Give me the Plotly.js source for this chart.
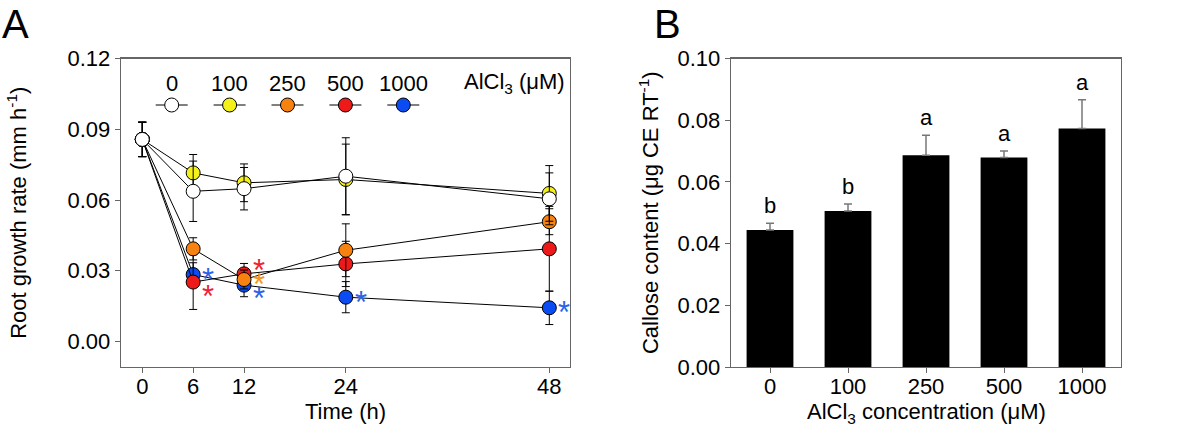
<!DOCTYPE html>
<html>
<head>
<meta charset="utf-8">
<script src="https://cdn.plot.ly/plotly-3.0.1.min.js"></script>
<style>
  html, body { margin: 0; padding: 0; background: #fff; }
  #chart { width: 1200px; height: 439px; }
</style>
</head>
<body>
<div id="chart"></div>
<script>
// Panel A: root growth rate over time
const times = [0, 6, 12, 24, 48];
const doses = ['0', '100', '250', '500', '1000'];

const rate0 = [0.0857, 0.0637, 0.0648, 0.0701, 0.0605];
const rate100 = [0.0857, 0.0715, 0.0673, 0.0687, 0.0628];
const rate250 = [0.0857, 0.0393, 0.0263, 0.0387, 0.0508];
const rate500 = [0.0857, 0.0252, 0.0287, 0.0329, 0.0393];
const rate1000 = [0.0857, 0.0284, 0.0239, 0.0188, 0.0143];

const err0 = [0.0073, 0.0128, 0.0090, 0.0163, 0.0110];
const err100 = [0.0073, 0.0078, 0.0080, 0.0150, 0.0118];
const err250 = [0.0073, 0.0047, 0.0040, 0.0112, 0.0055];
const err500 = [0.0073, 0.0116, 0.0044, 0.0096, 0.0180];
const err1000 = [0.0073, 0.0050, 0.0049, 0.0066, 0.0071];

// significant points (dose, time) marked with *
const sigDose = ['1000', '500', '500', '250', '1000', '1000', '1000'];
const sigTime = [6, 6, 12, 12, 12, 24, 48];

// Panel B: callose content
const alcl3 = ['0', '100', '250', '500', '1000'];
const callose = [0.0444, 0.0506, 0.0686, 0.0679, 0.0773];
const calloseErr = [0.0022, 0.0022, 0.0065, 0.0021, 0.0093];
const letters = ['b', 'b', 'a', 'a', 'a'];

const FONT = 'Liberation Sans, Arial, sans-serif';
const W = 1200, H = 439;
const FS = 22;

const fills = {
    '0': '#ffffff',
    '100': '#f4f019',
    '250': '#f7820f',
    '500': '#ee1a1a',
    '1000': '#0a4cf2'
};
const starColors = {
    '250': '#f7941d',
    '500': '#ee2233',
    '1000': '#2a63e8'
};
const rates = { '0': rate0, '100': rate100, '250': rate250, '500': rate500, '1000': rate1000 };
const errs = { '0': err0, '100': err100, '250': err250, '500': err500, '1000': err1000 };

// draw order: blue under red under orange, white on top
const drawOrder = ['1000', '500', '250', '100', '0'];

const traces = drawOrder.map(d => ({
    x: times,
    y: rates[d],
    type: 'scatter',
    mode: 'lines+markers',
    xaxis: 'x',
    yaxis: 'y',
    showlegend: false,
    line: { color: '#000', width: 1 },
    marker: { size: 14, color: fills[d], line: { color: '#000', width: 1 } },
    error_y: { type: 'data', array: errs[d], visible: true, color: '#000', thickness: 1, width: 4 }
}));

traces.push({
    x: alcl3.map((c, i) => i),
    y: callose,
    type: 'bar',
    xaxis: 'x2',
    yaxis: 'y2',
    showlegend: false,
    marker: { color: '#000' },
    error_y: {
        type: 'data', symmetric: false, array: calloseErr,
        arrayminus: calloseErr.map(() => 0),
        visible: true, color: '#777', thickness: 1.5, width: 4
    }
});

const annotations = [];
const shapes = [];

// asterisks next to the points
function starShift(d, t) {
    if (d === '500' && t === 6) return [15, -9];
    if (d === '500' && t === 12) return [15, 8];
    if (d === '1000' && t === 12) return [15, -8];
    return [15, 0];
}
sigDose.forEach((d, i) => {
    const t = sigTime[i];
    const s = starShift(d, t);
    annotations.push({
        x: t, y: rates[d][times.indexOf(t)], xref: 'x', yref: 'y',
        text: '*', showarrow: false, xanchor: 'center', yanchor: 'middle',
        font: { family: FONT, size: 31, color: starColors[d] },
        xshift: s[0], yshift: s[1] - 5
    });
});

// letters over the bars
letters.forEach((l, i) => {
    annotations.push({
        x: i, y: callose[i] + calloseErr[i], xref: 'x2', yref: 'y2',
        text: l, showarrow: false, xanchor: 'center', yanchor: 'bottom', yshift: 3,
        font: { family: FONT, size: FS, color: '#000' }
    });
});

// custom legend of panel A
const legX0 = 171.7, legStep = 57.9, legTextY = 83, legMarkY = 105;
doses.forEach((d, i) => {
    const px = (legX0 + i * legStep) / W;
    annotations.push({
        x: px, y: 1 - legTextY / H, xref: 'paper', yref: 'paper',
        xanchor: 'center', yanchor: 'middle',
        text: d, showarrow: false,
        font: { family: FONT, size: FS, color: '#000' }
    });
    shapes.push({
        type: 'line', xref: 'paper', yref: 'paper', xsizemode: 'pixel', xanchor: px,
        x0: -16, x1: 16, y0: 1 - legMarkY / H, y1: 1 - legMarkY / H,
        line: { color: '#000', width: 1 }
    });
    shapes.push({
        type: 'circle', xref: 'paper', yref: 'paper',
        xsizemode: 'pixel', ysizemode: 'pixel',
        xanchor: px, yanchor: 1 - legMarkY / H,
        x0: -7, x1: 7, y0: -7, y1: 7,
        fillcolor: fills[d], line: { color: '#000', width: 1 }
    });
});
annotations.push({
    x: 514 / W, y: 1 - legTextY / H, xref: 'paper', yref: 'paper',
    xanchor: 'center', yanchor: 'middle',
    text: 'AlCl<sub>3</sub> (μM)', showarrow: false,
    font: { family: FONT, size: FS, color: '#000' }
});

// x axis titles, placed closer to the tick labels than Plotly's default
const xDomA = [121 / W, 570 / W];
const xDomB = [731 / W, 1121 / W];
annotations.push({
    x: (xDomA[0] + xDomA[1]) / 2, y: 1 - 397 / H, xref: 'paper', yref: 'paper',
    xanchor: 'center', yanchor: 'top', text: 'Time (h)', showarrow: false,
    font: { family: FONT, size: FS, color: '#000' }
});
annotations.push({
    x: (xDomB[0] + xDomB[1]) / 2, y: 1 - 397 / H, xref: 'paper', yref: 'paper',
    xanchor: 'center', yanchor: 'top', text: 'AlCl<sub>3</sub> concentration (μM)', showarrow: false,
    font: { family: FONT, size: FS, color: '#000' }
});

// panel letters
annotations.push({
    x: 0, y: 1, xref: 'paper', yref: 'paper', xanchor: 'left', yanchor: 'top',
    text: 'A', showarrow: false,
    font: { family: FONT, size: 40, color: '#000' }
});
annotations.push({
    x: 652 / W, y: 1, xref: 'paper', yref: 'paper', xanchor: 'left', yanchor: 'top',
    text: 'B', showarrow: false,
    font: { family: FONT, size: 40, color: '#000' }
});

const axisBase = {
    showline: true, mirror: true, linecolor: '#666', linewidth: 1.3,
    ticks: 'outside', ticklen: 5, tickcolor: '#666', tickwidth: 1,
    showgrid: false, zeroline: false,
    tickfont: { family: FONT, size: FS, color: '#000' }
};

const yDom = [(H - 367) / H, (H - 58.5) / H];

const layout = {
    width: W, height: H,
    margin: { l: 0, r: 0, t: 0, b: 0 },
    paper_bgcolor: '#fff', plot_bgcolor: '#fff',
    bargap: 0.4,
    font: { family: FONT, color: '#000' },
    xaxis: Object.assign({}, axisBase, {
        domain: xDomA, range: [-2.51, 50.44],
        tickvals: times, ticktext: times.map(String),
        ticklabelstandoff: -6,
        anchor: 'y'
    }),
    yaxis: Object.assign({}, axisBase, {
        domain: yDom, range: [-0.0108, 0.12],
        tickvals: [0, 0.03, 0.06, 0.09, 0.12], tickformat: '.2f',
        title: { text: 'Root growth rate (mm h<sup>-1</sup>)', font: { family: FONT, size: FS }, standoff: 34 },
        anchor: 'x'
    }),
    xaxis2: Object.assign({}, axisBase, {
        domain: xDomB, range: [-0.5, 4.5],
        tickvals: alcl3.map((c, i) => i), ticktext: alcl3,
        ticklabelstandoff: -6,
        anchor: 'y2'
    }),
    yaxis2: Object.assign({}, axisBase, {
        domain: yDom, range: [0, 0.1],
        tickvals: [0, 0.02, 0.04, 0.06, 0.08, 0.1], tickformat: '.2f',
        title: { text: 'Callose content (μg CE RT<sup>-1</sup>)', font: { family: FONT, size: FS }, standoff: 12 },
        anchor: 'x2'
    }),
    annotations: annotations,
    shapes: shapes
};

Plotly.newPlot('chart', traces, layout, { staticPlot: true, displayModeBar: false });
</script>
</body>
</html>
